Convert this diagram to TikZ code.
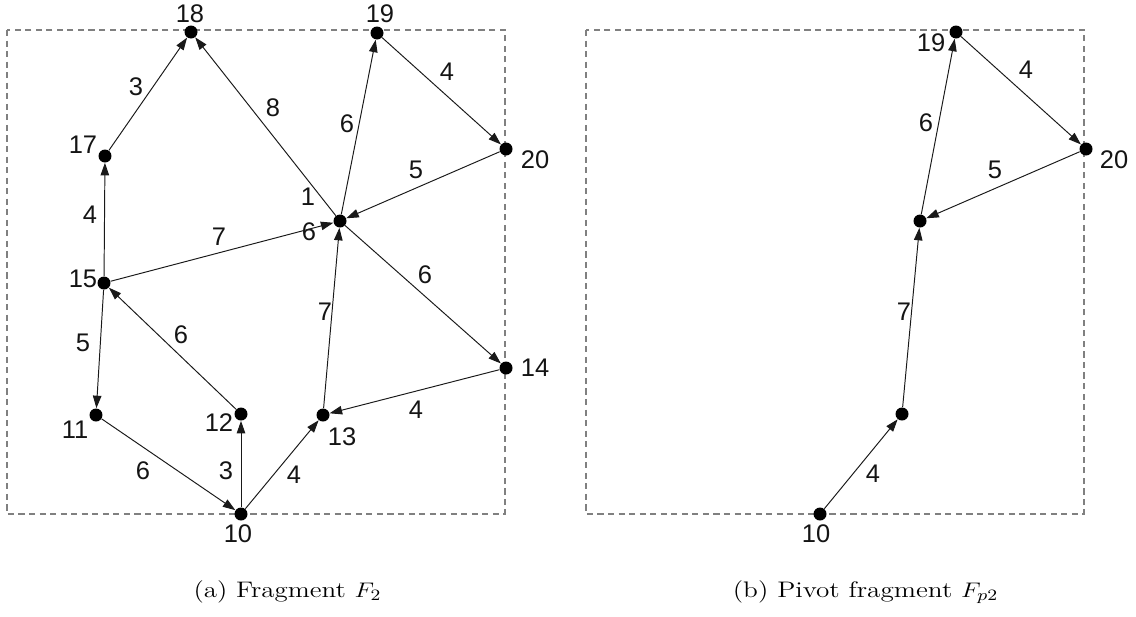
\documentclass[tikz,border=0pt]{standalone}
\usepackage{fontspec}
\newfontfamily\labfont{Liberation Sans}
\usetikzlibrary{arrows.meta}
\begin{document}
\begin{tikzpicture}[x=0.02cm,y=-0.02cm,
  dot/.style={circle,fill=black,inner sep=0pt,minimum size=0.26cm},
  edge/.style={-{Triangle[length=2.5mm,width=1.7mm]},line width=0.55pt,black!90},
  lbl/.style={font=\labfont\fontsize{14.5}{16}\selectfont,inner sep=0pt,text=black!92},
  frame/.style={dash pattern=on 3.5pt off 2.5pt,gray,line width=0.6pt},
  captext/.style={font=\fontsize{12.8}{15}\selectfont,anchor=base,inner sep=0pt}]
\useasboundingbox (0,0) rectangle (1136,616);
% ---------- panel (a) ----------
\draw[frame] (7,30) rectangle (505,514);
\node[dot] (a18) at (191,32) {};
\node[dot] (a19) at (377,33) {};
\node[dot] (a17) at (105,156) {};
\node[dot] (a20) at (506,149) {};
\node[dot] (a16) at (340,221) {};
\node[dot] (a15) at (104,283) {};
\node[dot] (a14) at (506,368) {};
\node[dot] (a11) at (96,415) {};
\node[dot] (a12) at (241,414) {};
\node[dot] (a13) at (323,415) {};
\node[dot] (a10) at (241,514) {};
\node[lbl] (t18) at (190,14) {18};
\node[lbl] (t19) at (380,14) {19};
\node[lbl] (t17) at (83,145) {17};
\node[lbl] (t20) at (535,160) {20};
\node[lbl] (t15) at (83,279) {15};
\node[lbl] (t14) at (535,368) {14};
\node[lbl] (t11) at (75,430) {11};
\node[lbl] (t12) at (219,423) {12};
\node[lbl] (t13) at (342,437) {13};
\node[lbl] (t10) at (238,534) {10};
\node[lbl] (t16a) at (308,197) {1};
\node[lbl] (t16b) at (309,232) {6};
\draw[edge] (a17) -- (a18);
\draw[edge] (a16) -- (a18);
\draw[edge] (a16) -- (a19);
\draw[edge] (a19) -- (a20);
\draw[edge] (a20) -- (a16);
\draw[edge] (a15) -- (a17);
\draw[edge] (a15) -- (a16);
\draw[edge] (a16) -- (a14);
\draw[edge] (a15) -- (a11);
\draw[edge] (a12) -- (a15);
\draw[edge] (a13) -- (a16);
\draw[edge] (a14) -- (a13);
\draw[edge] (a11) -- (a10);
\draw[edge] (a10) -- (a12);
\draw[edge] (a10) -- (a13);
\node[lbl] (w1) at (136,87) {3};
\node[lbl] (w2) at (273,108) {8};
\node[lbl] (w3) at (347,124) {6};
\node[lbl] (w4) at (447,72) {4};
\node[lbl] (w5) at (416,170) {5};
\node[lbl] (w6) at (90,215) {4};
\node[lbl] (w7) at (219,237) {7};
\node[lbl] (w8) at (425,275) {6};
\node[lbl] (w9) at (83,343) {5};
\node[lbl] (w10) at (181,335) {6};
\node[lbl] (w11) at (325,312) {7};
\node[lbl] (w12) at (416,410) {4};
\node[lbl] (w13) at (143,471) {6};
\node[lbl] (w14) at (226,471) {3};
\node[lbl] (w15) at (294,475) {4};
\node[captext] (capa) at (287.5,597) {\scalebox{1.2}[1]{(a) Fragment $F_2$}};
% ---------- panel (b) ----------
\draw[frame] (586,30) rectangle (1084,514);
\node[dot] (b19) at (956,32) {};
\node[dot] (b20) at (1086,149) {};
\node[dot] (b16) at (920,221) {};
\node[dot] (b13) at (902,414) {};
\node[dot] (b10) at (820,514) {};
\node[lbl] (u19) at (931,43) {19};
\node[lbl] (u20) at (1114,160) {20};
\node[lbl] (u10) at (816,534) {10};
\draw[edge] (b10) -- (b13);
\draw[edge] (b13) -- (b16);
\draw[edge] (b16) -- (b19);
\draw[edge] (b19) -- (b20);
\draw[edge] (b20) -- (b16);
\node[lbl] (v1) at (926,123) {6};
\node[lbl] (v2) at (1026,70) {4};
\node[lbl] (v3) at (995,170) {5};
\node[lbl] (v4) at (904,312) {7};
\node[lbl] (v5) at (873,474) {4};
\node[captext] (capb) at (865.5,597) {\scalebox{1.21}[1]{(b) Pivot fragment $F_{p2}$}};
\end{tikzpicture}
\end{document}
